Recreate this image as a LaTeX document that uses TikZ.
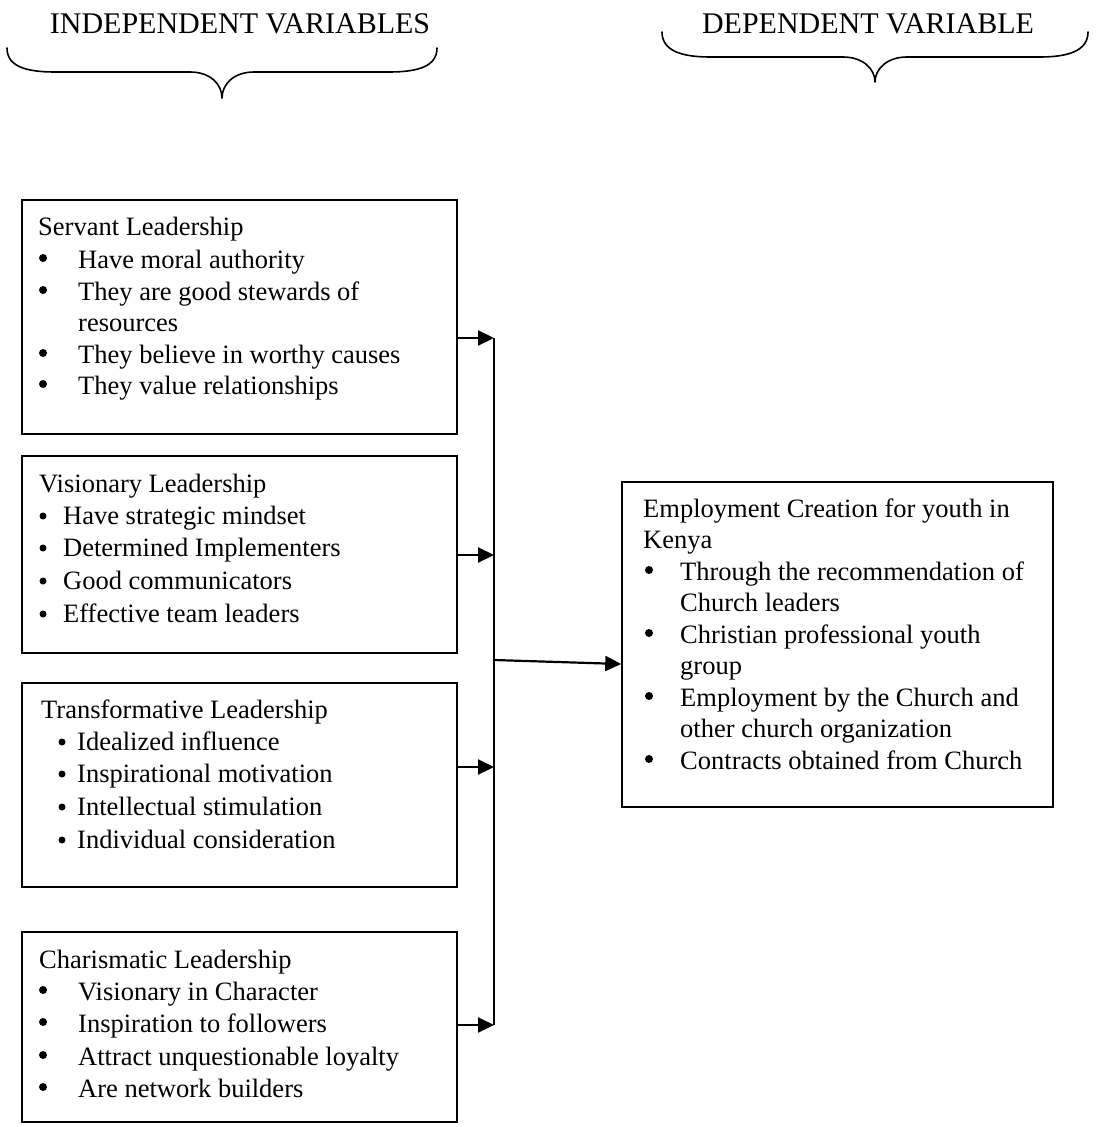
\documentclass[tikz,border=0pt]{standalone}
\usepackage{fontspec}
\setmainfont{Liberation Serif}
\usetikzlibrary{arrows.meta}
\tikzset{
  box/.style={draw, line width=1.5pt, minimum width=435pt, inner sep=0pt},
  txt/.style={anchor=base west, inner sep=0pt, font=\fontsize{26.5}{32}\selectfont},
  bul/.style={circle, fill, inner sep=0pt, minimum size=8pt},
  sbul/.style={circle, fill, inner sep=0pt, minimum size=7pt},
  head/.style={anchor=base, inner sep=0pt, font=\fontsize{30}{36}\selectfont},
  trunk/.style={line width=1.7pt},
  arr/.style={line width=2.2pt, -{Triangle[length=16pt,width=15pt]}},
  brace/.style={line width=1.6pt, line cap=round, line join=round}
}
\begin{document}
\begin{tikzpicture}[x=1pt,y=-1pt]
\useasboundingbox (0,0) rectangle (1112,1127);

% headings and braces
\node[head] (hInd) at (240,33) {INDEPENDENT VARIABLES};
\node[head] (hDep) at (868,33) {DEPENDENT VARIABLE};
\draw[brace] (7,48) .. controls (7,66) and (25,72) .. (55,72) -- (190,72)
  .. controls (210,72) and (222,84) .. (222,98)
  .. controls (222,84) and (234,72) .. (254,72) -- (389,72)
  .. controls (419,72) and (437,66) .. (437,48);
\draw[brace] (662,32) .. controls (662,50) and (680,57) .. (710,57) -- (843,57)
  .. controls (863,57) and (875,69) .. (875,82)
  .. controls (875,69) and (887,57) .. (907,57) -- (1040,57)
  .. controls (1070,57) and (1088,50) .. (1088,32);

% boxes
\node[box, minimum height=234pt] (b1) at (239.5,317) {};
\node[box, minimum height=197pt] (b2) at (239.5,554.5) {};
\node[box, minimum height=204pt] (b3) at (239.5,785) {};
\node[box, minimum height=190pt] (b4) at (239.5,1027) {};
\node[box, minimum width=431pt, minimum height=325pt] (E) at (837.5,644.5) {};

% box 1 text
\node[txt] (t10) at (38,235) {Servant Leadership};
\node[bul] (u11) at (43,258) {};
\node[txt] (t11) at (78,268) {Have moral authority};
\node[bul] (u12) at (43,290) {};
\node[txt] (t12) at (78,300) {They are good stewards of};
\node[txt] (t12b) at (78,331) {resources};
\node[bul] (u13) at (43,353) {};
\node[txt] (t13) at (78,363) {They believe in worthy causes};
\node[bul] (u14) at (43,384) {};
\node[txt] (t14) at (78,394) {They value relationships};

% box 2 text
\node[txt] (t20) at (39,492) {Visionary Leadership};
\node[sbul] (u21) at (43,516) {};
\node[txt] (t21) at (63,524) {Have strategic mindset};
\node[sbul] (u22) at (43,548) {};
\node[txt] (t22) at (63,556) {Determined Implementers};
\node[sbul] (u23) at (43,581) {};
\node[txt] (t23) at (63,589) {Good communicators};
\node[sbul] (u24) at (43,614) {};
\node[txt] (t24) at (63,622) {Effective team leaders};

% box 3 text
\node[txt] (t30) at (41,718) {Transformative Leadership};
\node[sbul] (u31) at (62,742) {};
\node[txt] (t31) at (77,750) {Idealized influence};
\node[sbul] (u32) at (62,774) {};
\node[txt] (t32) at (77,782) {Inspirational motivation};
\node[sbul] (u33) at (62,807) {};
\node[txt] (t33) at (77,815) {Intellectual stimulation};
\node[sbul] (u34) at (62,840) {};
\node[txt] (t34) at (77,848) {Individual consideration};

% box 4 text
\node[txt] (t40) at (39,968) {Charismatic Leadership};
\node[bul] (u41) at (43,990) {};
\node[txt] (t41) at (78,1000) {Visionary in Character};
\node[bul] (u42) at (43,1022) {};
\node[txt] (t42) at (78,1032) {Inspiration to followers};
\node[bul] (u43) at (43,1055) {};
\node[txt] (t43) at (78,1065) {Attract unquestionable loyalty};
\node[bul] (u44) at (43,1087) {};
\node[txt] (t44) at (78,1097) {Are network builders};

% dependent box text
\node[txt] (e0) at (643,517) {Employment Creation for youth in};
\node[txt] (e0b) at (643,548) {Kenya};
\node[bul] (v1) at (649,570) {};
\node[txt] (e1) at (680,580) {Through the recommendation of};
\node[txt] (e1b) at (680,611) {Church leaders};
\node[bul] (v2) at (649,633) {};
\node[txt] (e2) at (680,643) {Christian professional youth};
\node[txt] (e2b) at (680,674) {group};
\node[bul] (v3) at (649,696) {};
\node[txt] (e3) at (680,706) {Employment by the Church and};
\node[txt] (e3b) at (680,737) {other church organization};
\node[bul] (v4) at (649,759) {};
\node[txt] (e4) at (680,769) {Contracts obtained from Church};

% connectors
\coordinate (j1) at (494,338);
\coordinate (j2) at (494,555);
\coordinate (j3) at (494,767);
\coordinate (j4) at (494,1025);
\coordinate (m0) at (494,660);
\draw[trunk] (j1) -- (j4);
\draw[arr] (b1.east |- j1) -- (j1);
\draw[arr] (b2.east |- j2) -- (j2);
\draw[arr] (b3.east |- j3) -- (j3);
\draw[arr] (b4.east |- j4) -- (j4);
\draw[arr] (m0) -- ([yshift=-19.5pt]E.west);
\end{tikzpicture}
\end{document}
